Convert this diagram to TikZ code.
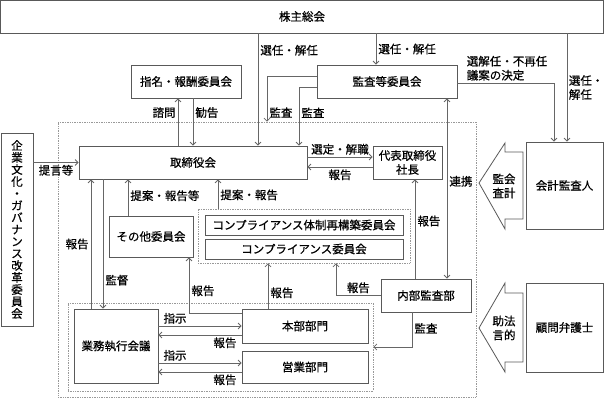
\documentclass[tikz,border=0pt]{standalone}
\usepackage{fontspec}
\setmainfont{Noto Sans CJK JP}[RawFeature={embolden=0.6}]
\usetikzlibrary{positioning, arrows.meta}

\begin{document}
\begin{tikzpicture}[x=1pt, y=-1pt,
    >={Straight Barb[length=3pt,width=6pt]},
    box/.style={draw=black!65, line width=0.8pt, fill=white, inner sep=0pt, align=center, font=\fontsize{11.5}{14}\selectfont},
    grp/.style={draw=black!40, densely dotted, line width=0.7pt, inner sep=0pt},
    arr/.style={draw=black!60, line width=0.8pt, ->},
    lbl/.style={inner sep=2pt, font=\fontsize{11.5}{14}\selectfont}]
    \useasboundingbox (0,0) rectangle (604,398);

    % Dotted areas
    \node[grp, minimum width=418pt, minimum height=275pt] (board) at (267,259.5) {};
    \node[grp, minimum width=212pt, minimum height=54pt] (comp) at (304,236) {};
    \node[grp, minimum width=305pt, minimum height=88pt] (gen) at (220.5,347) {};

    % Boxes
    \node[box, minimum width=603pt, minimum height=33pt] (kabu) at (302,16.5) {株主総会};
    \node[box, minimum width=110pt, minimum height=33pt] (shimei) at (186,81.5) {指名・報酬委員会};
    \node[box, minimum width=140pt, minimum height=33pt] (kansa) at (387,81.5) {監査等委員会};
    \node[box, minimum width=32pt, minimum height=193pt, font=\fontsize{11.5}{12}\selectfont] (kigyo) at (17,229.5)
        {企\\業\\文\\化\\・\\ガ\\バ\\ナ\\ン\\ス\\改\\革\\委\\員\\会};
    \node[box, minimum width=228pt, minimum height=33pt] (tori) at (193,162.5) {取締役会};
    \node[box, minimum width=69pt, minimum height=33pt] (daihyo) at (407.5,162.5) {代表取締役\\社長};
    \node[box, minimum width=84pt, minimum height=41pt] (sonota) at (151,236.5) {その他委員会};
    \node[box, minimum width=198pt, minimum height=20pt] (saiko) at (304,225) {コンプライアンス体制再構築委員会};
    \node[box, minimum width=198pt, minimum height=20pt] (compiin) at (304,249) {コンプライアンス委員会};
    \node[box, minimum width=90pt, minimum height=33pt] (naibu) at (426,295.5) {内部監査部};
    \node[box, minimum width=84pt, minimum height=74pt] (gyomu) at (116,346) {業務執行会議};
    \node[box, minimum width=126pt, minimum height=34pt] (honbu) at (305,326) {本部部門};
    \node[box, minimum width=126pt, minimum height=32pt] (eigyo) at (305,367) {営業部門};
    \node[box, minimum width=77pt, minimum height=87pt] (kaikei) at (564.5,185.5) {会計監査人};
    \node[box, minimum width=77pt, minimum height=89pt] (bengo) at (564.5,327.5) {顧問弁護士};

    % Block arrows
    \draw[draw=black!65, line width=0.8pt, fill=white] (479,183) -- (505,143) -- (505,152) -- (523,152) -- (523,219) -- (505,219) -- (505,229) -- cycle;
    \node[lbl, align=center] (kaikeitxt) at (504,186) {監会\\査計};
    \draw[draw=black!65, line width=0.8pt, fill=white] (479,328) -- (505,283) -- (505,293) -- (523,293) -- (523,362) -- (505,362) -- (505,372) -- cycle;
    \node[lbl, align=center] (bengotxt) at (504,328) {助法\\言的};

    % Shareholders
    \draw[arr] ([xshift=-44pt]kabu.south) -- ([xshift=65pt]tori.north) node[lbl, right, pos=0.15] {選任・解任};
    \draw[arr] ([xshift=74pt]kabu.south) -- ([xshift=-11pt]kansa.north) node[lbl, right, midway] {選任・解任};
    \draw[arr] ([xshift=265pt]kabu.south) -- ([xshift=2.5pt]kaikei.north) node[lbl, right, align=left, midway, inner sep=1.5pt] {選任・\\解任};

    % Audit committee
    \draw[arr] ([yshift=5.5pt]kansa.west) -| (board.north) node[lbl, right, pos=0.9] {監査};
    \draw[arr] ([yshift=-5.5pt]kansa.west) -| ([xshift=106pt]tori.north) node[lbl, right, pos=0.72] {監査};
    \draw[arr] ([yshift=-1.5pt]kansa.east) -| ([xshift=-10.5pt]kaikei.north)
        node[lbl, above right, align=left, pos=0, xshift=7pt] {選解任・不再任\\議案の決定};
    \draw[arr, <->] ([xshift=60pt]kansa.south) -- ([xshift=21pt]naibu.north) node[lbl, right, pos=0.46] {連携};

    % Board
    \draw[arr] ([xshift=-15pt]tori.north) -- ([xshift=-8pt]shimei.south) node[lbl, left, pos=0.7] {諮問};
    \draw[arr] ([xshift=7pt]shimei.south) -- (tori.north) node[lbl, right, pos=0.3] {勧告};
    \draw[arr] ([yshift=67pt]kigyo.east) -- (tori.west) node[lbl, below, midway] {提言等};
    \draw[arr] ([yshift=5.5pt]tori.east) -- ([yshift=5.5pt]daihyo.west) node[lbl, above, midway] {選定・解職};
    \draw[arr] ([yshift=-4.5pt]daihyo.west) -- ([yshift=-4.5pt]tori.east) node[lbl, below, midway] {報告};
    \draw[arr] ([xshift=-25pt]gyomu.north) -- ([xshift=-102pt]tori.south) node[lbl, left, midway] {報告};
    \draw[arr] ([xshift=-90pt]tori.south) -- ([xshift=-13pt]gyomu.north) node[lbl, right, pos=0.78] {監督};
    \draw[arr] ([xshift=-23pt]sonota.north) -- ([xshift=-65pt]tori.south) node[lbl, right, pos=0.55] {提案・報告等};
    \draw[arr] ([xshift=-86pt]comp.north) -- ([xshift=25pt]tori.south) node[lbl, right, pos=0.47] {提案・報告};

    % Internal audit
    \draw[arr] ([xshift=-11pt]naibu.north) -- ([xshift=7.5pt]daihyo.south) node[lbl, right, pos=0.58] {報告};
    \draw[arr] (naibu.west) -| ([xshift=32pt]comp.south) node[lbl, above, pos=0.25] {報告};
    \draw[arr] ([xshift=-14pt]naibu.south) |- (gen.east) node[lbl, right, pos=0.23] {監査};

    % Divisions
    \draw[arr] ([yshift=13pt]honbu.west) -| ([xshift=38pt]sonota.south) node[lbl, right, pos=0.7] {報告};
    \draw[arr] ([xshift=-37pt]honbu.north) -- ([xshift=-36pt]comp.south) node[lbl, right, pos=0.35] {報告};
    \draw[arr] ([yshift=20pt]gyomu.east) -- (honbu.west) node[lbl, above, pos=0.2] {指示};
    \draw[arr] ([yshift=-9pt]honbu.west) -- ([yshift=11pt]gyomu.east) node[lbl, below, pos=0.2] {報告};
    \draw[arr] ([yshift=-17pt]gyomu.east) -- ([yshift=4pt]eigyo.west) node[lbl, above, pos=0.2] {指示};
    \draw[arr] ([yshift=-5pt]eigyo.west) -- ([yshift=-26pt]gyomu.east) node[lbl, below, pos=0.2] {報告};
\end{tikzpicture}
\end{document}
